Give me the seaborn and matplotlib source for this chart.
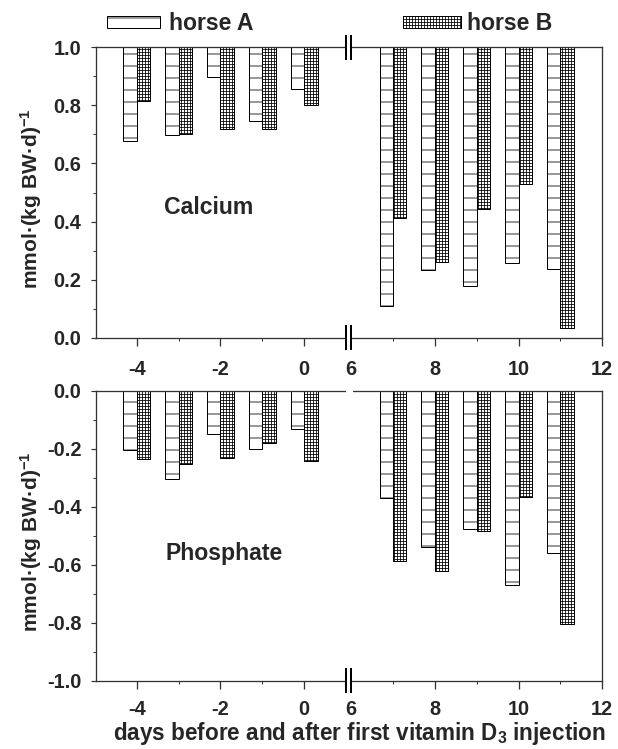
import numpy as np
import pandas as pd
import matplotlib
matplotlib.use("Agg")
import matplotlib.pyplot as plt
import seaborn as sns
from matplotlib.patches import Patch, Rectangle
from matplotlib.transforms import blended_transform_factory

# ---------------- data ----------------
days = [-4, -3, -2, -1, 0, 7, 8, 9, 10, 11]
horses = ["horse A", "horse B"]
calcium_A = [0.676, 0.697, 0.898, 0.746, 0.857, 0.109, 0.233, 0.178, 0.258, 0.236]
calcium_B = [0.815, 0.702, 0.718, 0.718, 0.800, 0.411, 0.260, 0.442, 0.529, 0.032]
phosphate_A = [-0.203, -0.306, -0.148, -0.202, -0.132, -0.369, -0.538, -0.478, -0.670, -0.561]
phosphate_B = [-0.234, -0.254, -0.231, -0.179, -0.242, -0.586, -0.621, -0.485, -0.368, -0.806]
xtick_days = [-4, -2, 0, 6, 8, 10, 12]
xtick_labels = ["-4", "-2", "0", "6", "8", "10", "12"]
minor_days = [-3, -1, 7, 9, 11]
calcium_ticks = [0.0, 0.2, 0.4, 0.6, 0.8, 1.0]
calcium_labels = ["0.0", "0.2", "0.4", "0.6", "0.8", "1.0"]
phosphate_ticks = [-1.0, -0.8, -0.6, -0.4, -0.2, 0.0]
phosphate_labels = ["-1.0", "-0.8", "-0.6", "-0.4", "-0.2", "0.0"]

# broken axis: days after the break are shifted left
GAP = 4.88
BREAK_L, BREAK_R = 0.99, 1.13


def axis_pos(d):
    return d if d < 3 else d - GAP


# ---------------- style ----------------
sns.set_style("ticks")
plt.rcParams["font.family"] = ["Liberation Sans", "DejaVu Sans"]
plt.rcParams["font.weight"] = "bold"
plt.rcParams["axes.labelweight"] = "bold"
plt.rcParams["mathtext.fontset"] = "custom"
plt.rcParams["mathtext.rm"] = "Liberation Sans:bold"
plt.rcParams["mathtext.it"] = "Liberation Sans:bold"
plt.rcParams["mathtext.bf"] = "Liberation Sans:bold"
plt.rcParams["hatch.linewidth"] = 0.8
plt.rcParams["hatch.color"] = "black"

DPI = 72
fig = plt.figure(figsize=(618 / DPI, 749 / DPI), dpi=DPI)
ax1 = fig.add_axes([0.1561, 0.5491, 0.8184, 0.3877])
ax2 = fig.add_axes([0.1561, 0.0912, 0.8184, 0.3872])

TICK_FS = 20
LABEL_FS = 21
SPINE_C = "#333333"


def draw(ax, vals_a, vals_b, base):
    df = pd.DataFrame({
        "pos": [axis_pos(d) for d in days] * 2,
        "horse": ["horse A"] * len(days) + ["horse B"] * len(days),
        "value": list(vals_a) + list(vals_b),
    })
    sns.barplot(data=df, x="pos", y="value", hue="horse", hue_order=horses,
                native_scale=True, width=0.64, dodge=True,
                palette=["white", "white"], edgecolor="black", linewidth=1.0,
                errorbar=None, legend=False, ax=ax)
    for cont, hatch in zip(ax.containers, ["-", "++++"]):
        for p in cont.patches:
            p.set_hatch(hatch)
            if base != 0:
                h = p.get_height()
                p.set_y(base)
                p.set_height(h - base)


def style_axis(ax, yticks, ylabels, ylim, xpad):
    ax.set_xlim(-4.96, 7.11)
    ax.set_ylim(*ylim)
    ax.set_xticks([axis_pos(d) for d in xtick_days])
    ax.set_xticklabels(xtick_labels)
    ax.set_xticks([axis_pos(d) for d in minor_days], minor=True)
    ax.set_yticks(yticks)
    ax.set_yticklabels(ylabels)
    ax.set_yticks([t + 0.1 for t in yticks[:-1]], minor=True)
    ax.tick_params(axis="x", which="major", length=8, width=1.3, pad=xpad,
                   labelsize=TICK_FS, color=SPINE_C, direction="out")
    ax.tick_params(axis="x", which="minor", length=3, width=1.0, color=SPINE_C,
                   direction="out")
    ax.tick_params(axis="y", which="major", length=5, width=1.2, pad=10,
                   labelsize=TICK_FS, color=SPINE_C, direction="out")
    ax.tick_params(axis="y", which="minor", length=3, width=1.0, color=SPINE_C,
                   direction="out")
    # no tick at the break ("6")
    ax.xaxis.get_major_ticks()[3].tick1line.set_visible(False)
    for s in ax.spines.values():
        s.set_visible(True)
        s.set_color(SPINE_C)
        s.set_linewidth(1.3)
    ax.set_xlabel("")
    ax.set_ylabel("mmol·(kg BW·d)$^{-1}$", fontsize=LABEL_FS, fontweight="bold")
    ax.yaxis.set_label_coords(-0.104, 0.48)


def break_mark(ax, yfrac, marks=True):
    tr = blended_transform_factory(ax.transData, ax.transAxes)
    ax.add_patch(Rectangle((BREAK_L + 0.02, yfrac - 0.01), BREAK_R - BREAK_L - 0.04 + (0 if marks else 0.06),
                           0.02, transform=tr, facecolor="white",
                           edgecolor="none", clip_on=False, zorder=9))
    if marks:
        for xb in (BREAK_L, BREAK_R):
            ax.plot([xb, xb], [yfrac - 0.043, yfrac + 0.043], transform=tr,
                    color="black", lw=2.0, clip_on=False, zorder=10,
                    solid_capstyle="butt")


draw(ax1, calcium_A, calcium_B, base=1.0)
style_axis(ax1, calcium_ticks, calcium_labels, (0.0, 1.0), xpad=14)
draw(ax2, phosphate_A, phosphate_B, base=0.0)
style_axis(ax2, phosphate_ticks, phosphate_labels, (-1.0, 0.0), xpad=11)

break_mark(ax1, 0.0)
break_mark(ax1, 1.0)
break_mark(ax2, 0.0)
break_mark(ax2, 1.0, marks=False)

ax1.text(-2.275, 0.45, "Calcium", fontsize=23, fontweight="bold",
         ha="center", va="center")
ax2.text(-1.917, -0.56, "Phosphate", fontsize=23, fontweight="bold",
         ha="center", va="center")

ax2.set_xlabel("days before and after first vitamin D$_3$ injection",
               fontsize=22.5, fontweight="bold")
ax2.xaxis.set_label_coords(0.519, -0.134)

# legends
hA = Patch(facecolor="white", edgecolor="black", hatch="-", lw=1.0)
hB = Patch(facecolor="white", edgecolor="black", hatch="++++", lw=1.0)
legA = fig.legend(handles=[hA], labels=["horse A"], loc="center left",
                  bbox_to_anchor=(106.7 / 618, 1 - 24 / 749), frameon=False,
                  borderpad=0, borderaxespad=0, handlelength=2.3,
                  handleheight=0.4, handletextpad=0.42,
                  prop={"size": 23, "weight": "bold"})
legB = fig.legend(handles=[hB], labels=["horse B"], loc="center left",
                  bbox_to_anchor=(403.3 / 618, 1 - 24 / 749), frameon=False,
                  borderpad=0, borderaxespad=0, handlelength=2.5,
                  handleheight=0.4, handletextpad=0.29,
                  prop={"size": 23, "weight": "bold"})

fig.savefig("out.png", dpi=DPI)
